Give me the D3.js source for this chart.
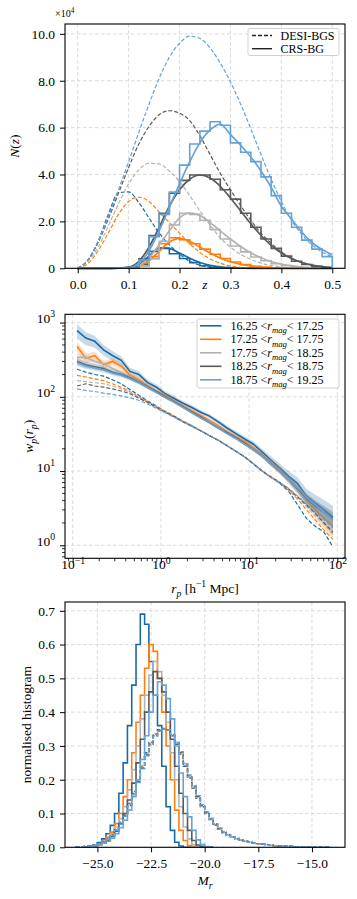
<!doctype html>
<html>
<head>
<meta charset="utf-8">
<script src="https://cdnjs.cloudflare.com/ajax/libs/d3/7.8.5/d3.min.js"></script>
<style>
  body { margin: 0; background: #fff; }
  svg text { font-family: "Liberation Serif", "Times New Roman", serif; white-space: pre; }
</style>
</head>
<body>
<svg id="fig" width="357" height="899" font-family="Liberation Serif, serif"></svg>
<script>
// ---- series colours and magnitude bins
const colours = ['#1a6aa8', '#ff7f0e', '#b3b3b3', '#5a5a5a', '#65a2d8'];
const magBins = [['16.25', '17.25'], ['17.25', '17.75'], ['17.75', '18.25'], ['18.25', '18.75'], ['18.75', '19.25']];

// ---- panel 1: N(z), in units of 1e4
const zGrid = [0, 0.02, 0.04, 0.06, 0.08, 0.10, 0.12, 0.14, 0.16, 0.18, 0.20, 0.22, 0.24,
  0.26, 0.28, 0.30, 0.32, 0.34, 0.36, 0.38, 0.40, 0.42, 0.44, 0.46, 0.48, 0.50];
const nzDesi1625 = [0, 0.35, 1.15, 2.3, 3.22, 3.26, 2.8, 2.15, 1.5, 1.0, 0.6, 0.3, 0.13, 0.05, 0.02, 0, 0, 0, 0, 0, 0, 0, 0, 0, 0, 0];
const nzDesi1725 = [0, 0.2, 0.75, 1.5, 2.3, 2.85, 3.03, 2.85, 2.4, 1.95, 1.5, 1.05, 0.68, 0.4, 0.22, 0.1, 0.04, 0.01, 0, 0, 0, 0, 0, 0, 0, 0];
const nzDesi1775 = [0, 0.3, 0.9, 1.8, 2.75, 3.6, 4.2, 4.48, 4.45, 4.15, 3.7, 3.1, 2.45, 1.85, 1.3, 0.9, 0.6, 0.38, 0.22, 0.12, 0.06, 0.03, 0.01, 0, 0, 0];
const nzDesi1825 = [0, 0.35, 1.1, 2.1, 3.2, 4.3, 5.3, 6.05, 6.55, 6.72, 6.62, 6.3, 5.65, 4.85, 4.05, 3.35, 2.68, 2.05, 1.5, 1.07, 0.7, 0.43, 0.25, 0.13, 0.06, 0.03];
const nzDesi1875 = [0, 0.35, 1.15, 2.2, 3.35, 4.55, 5.8, 7.0, 8.1, 9.0, 9.6, 9.9, 9.8, 9.4, 8.75, 7.95, 7.0, 5.95, 4.85, 3.8, 2.85, 2.05, 1.45, 1.0, 0.7, 0.5];
const nzFit1625 = [0, 0, 0, 0, 0.005, 0.03, 0.17, 0.52, 0.86, 0.84, 0.65, 0.43, 0.25, 0.13, 0.06, 0.025, 0.01, 0, 0, 0, 0, 0, 0, 0, 0, 0];
const nzFit1725 = [0, 0, 0, 0, 0.002, 0.015, 0.09, 0.32, 0.72, 1.12, 1.28, 1.15, 0.9, 0.65, 0.44, 0.28, 0.17, 0.1, 0.05, 0.02, 0.01, 0, 0, 0, 0, 0];
const nzFit1775 = [0, 0, 0, 0, 0.005, 0.02, 0.12, 0.45, 1.0, 1.6, 2.15, 2.35, 2.25, 1.95, 1.6, 1.25, 0.93, 0.66, 0.45, 0.29, 0.18, 0.1, 0.05, 0.02, 0.01, 0];
const nzFit1825 = [0, 0, 0, 0, 0.01, 0.05, 0.3, 0.9, 1.75, 2.65, 3.35, 3.8, 3.98, 3.85, 3.5, 3.0, 2.45, 1.9, 1.4, 0.98, 0.65, 0.42, 0.25, 0.14, 0.07, 0.03];
const nzFit1875 = [0, 0, 0, 0, 0.005, 0.03, 0.2, 0.75, 1.6, 2.6, 3.6, 4.55, 5.35, 5.9, 6.15, 5.7, 5.25, 4.75, 4.15, 3.45, 2.65, 2.1, 1.55, 1.1, 0.8, 0.58];
const zBinEdges = [0.10, 0.12, 0.14, 0.16, 0.18, 0.20, 0.22, 0.24, 0.26, 0.28, 0.30, 0.32, 0.34, 0.36, 0.38, 0.40, 0.42, 0.44, 0.46, 0.48];
const zBinWidth = 0.02;
const nzHist1625 = [0.02, 0.18, 0.72, 0.86, 0.62, 0.42, 0.24, 0.11, 0.04, 0.015, 0.005, 0, 0, 0, 0, 0, 0, 0, 0, 0];
const nzHist1725 = [0, 0.1, 0.5, 1.05, 1.3, 1.22, 1.05, 0.82, 0.6, 0.42, 0.27, 0.16, 0.09, 0.05, 0.02, 0.01, 0, 0, 0, 0];
const nzHist1775 = [0.01, 0.1, 0.4, 1.15, 1.85, 2.35, 2.3, 2.05, 1.65, 1.25, 0.95, 0.7, 0.48, 0.32, 0.2, 0.12, 0.06, 0.03, 0.01, 0];
const nzHist1825 = [0.05, 0.4, 1.4, 2.35, 3.2, 3.75, 3.98, 3.98, 3.8, 3.35, 2.95, 2.35, 1.75, 1.25, 0.85, 0.52, 0.3, 0.16, 0.08, 0.03];
const nzHist1875 = [0.02, 0.35, 1.35, 2.3, 3.25, 4.4, 5.3, 5.85, 6.25, 6.1, 5.35, 4.95, 4.55, 3.9, 3.1, 2.35, 1.75, 1.2, 0.82, 0.5];

// ---- panel 2: w_p(r_p)
const rp = [0.112, 0.141, 0.178, 0.224, 0.282, 0.355, 0.447, 0.562, 0.708, 0.891, 1.12, 1.41, 1.78, 2.24, 2.82,
  3.55, 4.47, 5.62, 7.08, 8.91, 11.2, 14.1, 17.8, 22.4, 28.2, 35.5, 44.7, 56.2, 70.8, 89.1];
const wpCrs1625 = [780, 620, 560, 430, 360, 310, 220, 200, 155, 135, 110, 95, 82, 72, 62, 55, 46, 38, 32, 27, 23, 18, 14, 11, 8.5, 6.8, 4.6, 3.7, 3.0, 2.4];
const wpCrs1725 = [480, 330, 360, 270, 300, 260, 195, 170, 140, 120, 105, 88, 76, 65, 56, 48, 41, 34, 29, 25, 20.5, 16.5, 13, 10.2, 7.8, 5.8, 4.1, 3.0, 2.3, 1.8];
const wpCrs1775 = [340, 340, 300, 280, 240, 215, 185, 160, 135, 118, 100, 86, 74, 62, 53, 46, 39, 33, 28, 23.5, 19.5, 16, 12.5, 10, 7.6, 5.7, 4.2, 3.3, 2.7, 2.1];
const wpCrs1825 = [300, 270, 255, 240, 215, 200, 180, 158, 135, 117, 100, 86, 73, 62, 53, 45, 38, 33, 28, 23.5, 19.5, 16, 12.5, 10, 7.8, 5.8, 4.3, 3.4, 2.8, 2.3];
const wpCrs1875 = [290, 260, 245, 230, 210, 195, 175, 155, 133, 115, 98, 85, 72, 61, 52, 45, 38, 32, 27.5, 23, 19.5, 16, 12.5, 10, 7.8, 5.9, 4.4, 3.5, 2.8, 2.2];
const wpErr1625 = [0.22, 0.2, 0.18, 0.16, 0.15, 0.14, 0.12, 0.11, 0.1, 0.09, 0.08, 0.08, 0.07, 0.07, 0.07, 0.07, 0.07, 0.07, 0.08, 0.08, 0.09, 0.1, 0.12, 0.14, 0.17, 0.2, 0.25, 0.3, 0.36, 0.42];
const wpErr1725 = [0.16, 0.15, 0.13, 0.12, 0.11, 0.1, 0.09, 0.08, 0.07, 0.06, 0.06, 0.05, 0.05, 0.05, 0.05, 0.05, 0.05, 0.05, 0.06, 0.06, 0.07, 0.08, 0.09, 0.11, 0.13, 0.16, 0.19, 0.23, 0.27, 0.32];
const wpErr1775 = [0.13, 0.12, 0.11, 0.1, 0.09, 0.08, 0.07, 0.06, 0.06, 0.05, 0.05, 0.04, 0.04, 0.04, 0.04, 0.04, 0.04, 0.04, 0.05, 0.05, 0.06, 0.07, 0.08, 0.09, 0.11, 0.13, 0.16, 0.19, 0.23, 0.27];
const wpErr1825 = [0.11, 0.1, 0.09, 0.08, 0.08, 0.07, 0.06, 0.06, 0.05, 0.05, 0.04, 0.04, 0.04, 0.04, 0.04, 0.04, 0.04, 0.04, 0.04, 0.05, 0.05, 0.06, 0.07, 0.08, 0.1, 0.12, 0.14, 0.17, 0.2, 0.24];
const wpErr1875 = [0.1, 0.09, 0.08, 0.08, 0.07, 0.06, 0.06, 0.05, 0.05, 0.04, 0.04, 0.04, 0.03, 0.03, 0.03, 0.03, 0.03, 0.04, 0.04, 0.04, 0.05, 0.05, 0.06, 0.07, 0.09, 0.11, 0.13, 0.16, 0.19, 0.22];
const wpDesi1625 = [235, 215, 200, 190, 170, 150, 125, 105, 88, 75, 64, 55, 47, 41, 35, 30, 26, 22, 18.5, 15.5, 12.5, 10, 8.2, 6.8, 5.3, 3.5, 2.3, 1.8, 1.5, 0.95];
const wpDesi1725 = [195, 185, 175, 165, 150, 135, 118, 100, 86, 74, 63, 55, 47, 41, 35, 30, 26, 22, 18.5, 15.5, 12.5, 10, 8.2, 6.8, 5.5, 4.2, 3.0, 2.2, 1.6, 1.2];
const wpDesi1775 = [165, 160, 155, 150, 140, 128, 115, 98, 85, 73, 63, 54, 47, 41, 35, 30, 26, 22, 18.5, 15.5, 12.5, 10, 8.3, 6.9, 5.6, 4.4, 3.3, 2.5, 1.9, 1.4];
const wpDesi1825 = [140, 150, 140, 135, 128, 120, 110, 96, 84, 72, 62, 54, 46, 40, 35, 30, 26, 22, 18.5, 15.5, 12.5, 10, 8.3, 7.0, 5.7, 4.5, 3.5, 2.7, 2.0, 1.5];
const wpDesi1875 = [128, 122, 118, 112, 108, 103, 97, 90, 80, 70, 61, 53, 46, 40, 35, 30, 26, 22, 18.5, 15.5, 12.5, 10, 8.3, 7.0, 5.8, 4.6, 3.6, 2.8, 2.2, 1.7];

// ---- panel 3: M_r histograms (bins of 0.2 mag)
const mrBinWidth = 0.2;
const mrCrsStart = -25.6;
const mrCrs1625 = [0.001, 0.003, 0.007, 0.014, 0.025, 0.04, 0.065, 0.1, 0.16, 0.25, 0.36, 0.48, 0.6, 0.69, 0.66, 0.55, 0.45, 0.36, 0.24, 0.12, 0.05, 0.015, 0.004, 0, 0, 0, 0, 0, 0, 0];
const mrCrs1725 = [0.001, 0.003, 0.005, 0.01, 0.018, 0.03, 0.045, 0.07, 0.1, 0.15, 0.2, 0.28, 0.37, 0.45, 0.53, 0.6, 0.58, 0.5, 0.4, 0.3, 0.2, 0.11, 0.05, 0.02, 0.005, 0, 0, 0, 0, 0];
const mrCrs1775 = [0.001, 0.003, 0.005, 0.009, 0.015, 0.025, 0.04, 0.06, 0.085, 0.12, 0.17, 0.23, 0.3, 0.38, 0.45, 0.51, 0.55, 0.52, 0.45, 0.37, 0.28, 0.2, 0.12, 0.06, 0.025, 0.008, 0.002, 0, 0, 0];
const mrCrs1825 = [0.001, 0.003, 0.005, 0.008, 0.013, 0.02, 0.032, 0.048, 0.07, 0.1, 0.14, 0.19, 0.25, 0.32, 0.4, 0.46, 0.52, 0.5, 0.46, 0.4, 0.32, 0.24, 0.16, 0.1, 0.05, 0.02, 0.007, 0.002, 0, 0];
const mrCrs1875 = [0.001, 0.003, 0.005, 0.008, 0.012, 0.018, 0.027, 0.04, 0.058, 0.08, 0.11, 0.15, 0.2, 0.26, 0.33, 0.4, 0.45, 0.49, 0.48, 0.44, 0.38, 0.3, 0.22, 0.15, 0.09, 0.05, 0.022, 0.008, 0.002, 0];
const mrDesiStart = -26.0;
const mrDesi1625 = [0.001, 0.002, 0.003, 0.005, 0.008, 0.012, 0.018, 0.027, 0.04, 0.055, 0.075, 0.1, 0.13, 0.165, 0.2, 0.24, 0.28, 0.31, 0.335, 0.348,
  0.352, 0.347, 0.33, 0.305, 0.275, 0.24, 0.205, 0.175, 0.145, 0.12, 0.1, 0.082, 0.066, 0.053, 0.043, 0.036, 0.03, 0.025, 0.021, 0.018,
  0.015, 0.013, 0.011, 0.009, 0.008, 0.006, 0.005, 0.004, 0.0035, 0.003, 0.0025, 0.002, 0.0015, 0.001, 0.0008, 0.0006, 0.0004, 0.0003, 0.0002];
const mrDesi1725 = [0.001, 0.002, 0.003, 0.005, 0.008, 0.011, 0.017, 0.026, 0.038, 0.054, 0.073, 0.098, 0.128, 0.162, 0.198, 0.238, 0.277, 0.307, 0.332, 0.346,
  0.351, 0.346, 0.331, 0.307, 0.277, 0.243, 0.208, 0.177, 0.147, 0.122, 0.101, 0.083, 0.067, 0.054, 0.044, 0.036, 0.03, 0.025, 0.021, 0.018,
  0.015, 0.013, 0.011, 0.009, 0.008, 0.006, 0.005, 0.004, 0.0035, 0.003, 0.0025, 0.002, 0.0015, 0.001, 0.0008, 0.0006, 0.0004, 0.0003, 0.0002];
const mrDesi1775 = [0.001, 0.002, 0.003, 0.004, 0.007, 0.011, 0.017, 0.025, 0.037, 0.052, 0.071, 0.096, 0.126, 0.16, 0.196, 0.236, 0.275, 0.306, 0.331, 0.345,
  0.35, 0.347, 0.332, 0.308, 0.279, 0.245, 0.21, 0.179, 0.149, 0.123, 0.102, 0.084, 0.068, 0.055, 0.044, 0.037, 0.031, 0.025, 0.021, 0.018,
  0.015, 0.013, 0.011, 0.009, 0.008, 0.006, 0.005, 0.004, 0.0035, 0.003, 0.0025, 0.002, 0.0015, 0.001, 0.0008, 0.0006, 0.0004, 0.0003, 0.0002];
const mrDesi1825 = [0.001, 0.002, 0.003, 0.004, 0.007, 0.01, 0.016, 0.024, 0.036, 0.051, 0.07, 0.094, 0.124, 0.158, 0.194, 0.234, 0.273, 0.305, 0.33, 0.345,
  0.351, 0.348, 0.333, 0.31, 0.281, 0.247, 0.212, 0.181, 0.151, 0.125, 0.103, 0.085, 0.069, 0.056, 0.045, 0.037, 0.031, 0.026, 0.022, 0.018,
  0.015, 0.013, 0.011, 0.009, 0.008, 0.006, 0.005, 0.004, 0.0035, 0.003, 0.0025, 0.002, 0.0015, 0.001, 0.0008, 0.0006, 0.0004, 0.0003, 0.0002];
const mrDesi1875 = [0.001, 0.002, 0.003, 0.004, 0.006, 0.01, 0.015, 0.023, 0.035, 0.05, 0.068, 0.092, 0.122, 0.156, 0.192, 0.232, 0.271, 0.303, 0.329, 0.344,
  0.35, 0.348, 0.334, 0.312, 0.283, 0.249, 0.214, 0.183, 0.153, 0.127, 0.105, 0.086, 0.07, 0.057, 0.046, 0.038, 0.031, 0.026, 0.022, 0.018,
  0.015, 0.013, 0.011, 0.009, 0.008, 0.006, 0.005, 0.004, 0.0035, 0.003, 0.0025, 0.002, 0.0015, 0.001, 0.0008, 0.0006, 0.0004, 0.0003, 0.0002];

const nzDesi = [nzDesi1625, nzDesi1725, nzDesi1775, nzDesi1825, nzDesi1875];
const nzFit = [nzFit1625, nzFit1725, nzFit1775, nzFit1825, nzFit1875];
const nzHist = [nzHist1625, nzHist1725, nzHist1775, nzHist1825, nzHist1875];
const wpCrs = [wpCrs1625, wpCrs1725, wpCrs1775, wpCrs1825, wpCrs1875];
const wpErr = [wpErr1625, wpErr1725, wpErr1775, wpErr1825, wpErr1875];
const wpDesi = [wpDesi1625, wpDesi1725, wpDesi1775, wpDesi1825, wpDesi1875];
const mrCrs = [mrCrs1625, mrCrs1725, mrCrs1775, mrCrs1825, mrCrs1875];
const mrDesi = [mrDesi1625, mrDesi1725, mrDesi1775, mrDesi1825, mrDesi1875];

// ---- layout
const FONT = 'Liberation Serif, serif';
const FS = 13.5;
const LFS = 12;
const DASH = '4,2';
const panels = {
  nz: {l: 65, r: 345, t: 24, b: 268.3},
  wp: {l: 65, r: 345, t: 314.3, b: 558.3},
  mr: {l: 65, r: 345, t: 602, b: 847.3}
};
const svg = d3.select('#fig');

// rich text: italic, sub and superscript pieces
function rich(sel, parts, size) {
  let shift = 0;
  parts.forEach(p => {
    const target = p.sub ? size * 0.28 : p.sup ? -size * 0.42 : 0;
    const ts = sel.append('tspan').text(p.t).attr('dy', target - shift);
    if (p.i) ts.attr('font-style', 'italic');
    if (p.sub || p.sup) ts.attr('font-size', size * 0.72);
    shift = target;
  });
  return sel;
}

function grid(g, p, x, y, xt, yt) {
  const gg = g.append('g').attr('stroke', '#d6d6d6').attr('stroke-width', 0.9).attr('stroke-dasharray', '3.5,2.5');
  xt.forEach(v => gg.append('line').attr('x1', x(v)).attr('x2', x(v)).attr('y1', p.t).attr('y2', p.b));
  yt.forEach(v => gg.append('line').attr('y1', y(v)).attr('y2', y(v)).attr('x1', p.l).attr('x2', p.r));
}

function axes(g, p, x, y, xt, yt, xf, yf) {
  const ax = g.append('g').attr('transform', `translate(0,${p.b})`)
    .call(d3.axisBottom(x).tickValues(xt).tickSize(5).tickPadding(6).tickFormat(xf));
  const ay = g.append('g').attr('transform', `translate(${p.l},0)`)
    .call(d3.axisLeft(y).tickValues(yt).tickSize(5).tickPadding(5).tickFormat(yf));
  [ax, ay].forEach(a => {
    a.select('.domain').remove();
    a.attr('font-size', FS).attr('font-family', FONT);
    a.selectAll('.tick line').attr('stroke', '#000').attr('stroke-width', 1);
    a.selectAll('.tick text').attr('fill', '#000');
  });
  return [ax, ay];
}

function frame(g, p) {
  g.append('rect').attr('x', p.l).attr('y', p.t).attr('width', p.r - p.l).attr('height', p.b - p.t)
    .attr('fill', 'none').attr('stroke', '#000').attr('stroke-width', 1.1);
}

function stepPoints(edges, width, vals) {
  const pts = [[edges[0], 0]];
  vals.forEach((v, i) => { pts.push([edges[i], v]); pts.push([edges[i] + width, v]); });
  pts.push([edges[vals.length - 1] + width, 0]);
  return pts;
}

// ================= panel 1 =================
{
  const p = panels.nz;
  const x = d3.scaleLinear().domain([-0.025, 0.525]).range([p.l, p.r]);
  const y = d3.scaleLinear().domain([0, 10.42]).range([p.b, p.t]);
  const xt = [0, 0.1, 0.2, 0.3, 0.4, 0.5], yt = [0, 2, 4, 6, 8, 10];
  const g = svg.append('g');
  grid(g, p, x, y, xt, yt);
  const curve = d3.line().x((d, i) => x(zGrid[i])).y(d => y(d)).curve(d3.curveMonotoneX);
  const step = d3.line().x(d => x(d[0])).y(d => y(d[1]));
  colours.forEach((c, k) => {
    g.append('path').attr('d', curve(nzDesi[k])).attr('fill', 'none').attr('stroke', c)
      .attr('stroke-width', 1.2).attr('stroke-dasharray', DASH);
    g.append('path').attr('d', curve(nzFit[k])).attr('fill', 'none').attr('stroke', c).attr('stroke-width', 1.7);
    g.append('path').attr('d', step(stepPoints(zBinEdges, zBinWidth, nzHist[k]))).attr('fill', 'none')
      .attr('stroke', c).attr('stroke-width', 1.6);
  });
  frame(g, p);
  axes(g, p, x, y, xt, yt, d => d.toFixed(1), d => d === 0 ? '0' : d.toFixed(1));
  rich(g.append('text').attr('x', 55).attr('y', 17).attr('font-size', 10), [{t: '×10'}, {t: '4', sup: true}], 10);
  rich(g.append('text').attr('x', 205).attr('y', p.b + 11 + 0.71 * FS).attr('text-anchor', 'middle').attr('font-size', FS),
    [{t: 'z', i: true}], FS);
  rich(g.append('text').attr('transform', `translate(19,${(p.t + p.b) / 2}) rotate(-90)`).attr('text-anchor', 'middle')
    .attr('font-size', FS), [{t: 'N', i: true}, {t: '('}, {t: 'z', i: true}, {t: ')'}], FS);
  // legend
  const lg = g.append('g');
  lg.append('rect').attr('x', 248).attr('y', 28.5).attr('width', 91).attr('height', 27).attr('rx', 2)
    .attr('fill', '#fff').attr('fill-opacity', 0.8).attr('stroke', '#cccccc').attr('stroke-width', 0.9);
  [['DESI-BGS', DASH], ['CRS-BG', null]].forEach((e, i) => {
    const yy = 35.5 + i * 13.2;
    lg.append('line').attr('x1', 252).attr('x2', 272).attr('y1', yy).attr('y2', yy).attr('stroke', '#222')
      .attr('stroke-width', 1.4).attr('stroke-dasharray', e[1]);
    lg.append('text').attr('x', 280.5).attr('y', yy + 4).attr('font-size', LFS).text(e[0]);
  });
}

// ================= panel 2 =================
{
  const p = panels.wp;
  const x = d3.scaleLog().domain([Math.pow(10, -1.087), Math.pow(10, 2.087)]).range([p.l, p.r]);
  const y = d3.scaleLog().domain([0.668, 1294]).range([p.b, p.t]);
  const xt = [0.1, 1, 10, 100], yt = [1, 10, 100, 1000];
  const g = svg.append('g');
  grid(g, p, x, y, xt, yt);
  const line = d3.line().x((d, i) => x(rp[i])).y(d => y(d));
  colours.forEach((c, k) => {
    const band = d3.area().x((d, i) => x(rp[i]))
      .y0((d, i) => y(d * (1 - wpErr[k][i]))).y1((d, i) => y(d * (1 + wpErr[k][i])));
    g.append('path').attr('d', band(wpCrs[k])).attr('fill', c).attr('fill-opacity', 0.25);
    g.append('path').attr('d', line(wpCrs[k])).attr('fill', 'none').attr('stroke', c).attr('stroke-width', 1.6);
    g.append('path').attr('d', line(wpDesi[k])).attr('fill', 'none').attr('stroke', c)
      .attr('stroke-width', 1.2).attr('stroke-dasharray', DASH);
  });
  frame(g, p);
  const [ax, ay] = axes(g, p, x, y, xt, yt, () => '', () => '');
  [ax, ay].forEach(a => a.selectAll('.tick text').each(function (d) {
    const e = Math.round(Math.log10(d));
    rich(d3.select(this), [{t: '10'}, {t: e < 0 ? '−' + (-e) : String(e), sup: true}], FS);
  }));
  // minor ticks
  const mg = g.append('g').attr('stroke', '#000').attr('stroke-width', 0.8);
  x.ticks().filter(v => Math.abs(Math.log10(v) - Math.round(Math.log10(v))) > 1e-6).forEach(v =>
    mg.append('line').attr('x1', x(v)).attr('x2', x(v)).attr('y1', p.b).attr('y2', p.b + 3));
  y.ticks().filter(v => Math.abs(Math.log10(v) - Math.round(Math.log10(v))) > 1e-6).forEach(v =>
    mg.append('line').attr('y1', y(v)).attr('y2', y(v)).attr('x1', p.l).attr('x2', p.l - 3));
  rich(g.append('text').attr('x', 205).attr('y', 593).attr('text-anchor', 'middle').attr('font-size', FS),
    [{t: 'r', i: true}, {t: 'p', i: true, sub: true}, {t: ' [h'}, {t: '−1', sup: true}, {t: ' Mpc]'}], FS);
  rich(g.append('text').attr('transform', `translate(33,${(p.t + p.b) / 2}) rotate(-90)`).attr('text-anchor', 'middle')
    .attr('font-size', FS), [{t: 'w', i: true}, {t: 'p', i: true, sub: true}, {t: '('}, {t: 'r', i: true},
    {t: 'p', i: true, sub: true}, {t: ')'}], FS);
  // legend
  const lg = g.append('g');
  lg.append('rect').attr('x', 197).attr('y', 319).attr('width', 142).attr('height', 69).attr('rx', 2)
    .attr('fill', '#fff').attr('fill-opacity', 0.8).attr('stroke', '#cccccc').attr('stroke-width', 0.9);
  magBins.forEach((m, k) => {
    const yy = 325.8 + k * 13.5;
    lg.append('line').attr('x1', 200).attr('x2', 221.5).attr('y1', yy).attr('y2', yy)
      .attr('stroke', colours[k]).attr('stroke-width', 1.6);
    rich(lg.append('text').attr('x', 230.5).attr('y', yy + 4).attr('font-size', LFS),
      [{t: m[0] + ' <'}, {t: 'r', i: true}, {t: 'mag', i: true, sub: true}, {t: '< ' + m[1]}], LFS);
  });
}

// ================= panel 3 =================
{
  const p = panels.mr;
  const x = d3.scaleLinear().domain([-26.51, -13.46]).range([p.l, p.r]);
  const y = d3.scaleLinear().domain([0, 0.726]).range([p.b, p.t]);
  const xt = [-25, -22.5, -20, -17.5, -15], yt = [0, 0.1, 0.2, 0.3, 0.4, 0.5, 0.6, 0.7];
  const g = svg.append('g');
  grid(g, p, x, y, xt, yt);
  const step = d3.line().x(d => x(d[0])).y(d => y(d[1]));
  const edges = (start, n) => d3.range(n).map(i => start + i * mrBinWidth);
  colours.forEach((c, k) => {
    g.append('path').attr('d', step(stepPoints(edges(mrCrsStart, mrCrs[k].length), mrBinWidth, mrCrs[k])))
      .attr('fill', 'none').attr('stroke', c).attr('stroke-width', 1.6);
    g.append('path').attr('d', step(stepPoints(edges(mrDesiStart, mrDesi[k].length), mrBinWidth, mrDesi[k])))
      .attr('fill', 'none').attr('stroke', c).attr('stroke-width', 1.4).attr('stroke-dasharray', DASH);
  });
  frame(g, p);
  axes(g, p, x, y, xt, yt, d => (d < 0 ? '−' : '') + Math.abs(d).toFixed(1), d => d.toFixed(1));
  rich(g.append('text').attr('x', 205).attr('y', 885).attr('text-anchor', 'middle').attr('font-size', FS),
    [{t: 'M', i: true}, {t: 'r', i: true, sub: true}], FS);
  g.append('text').attr('transform', `translate(31,${(p.t + p.b) / 2}) rotate(-90)`).attr('text-anchor', 'middle')
    .attr('font-size', FS).text('normalised histogram');
}
</script>
</body>
</html>
